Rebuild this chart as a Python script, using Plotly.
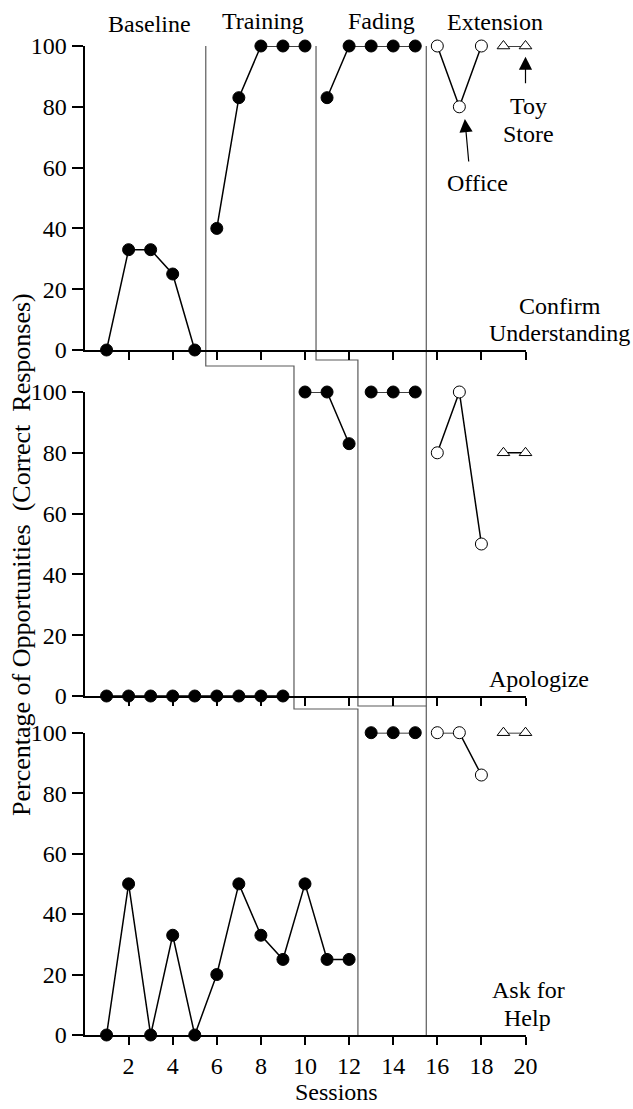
import plotly.graph_objects as go

# ---------------- data ----------------
tick_sessions = [2, 4, 6, 8, 10, 12, 14, 16, 18, 20]
y_ticks = [0, 20, 40, 60, 80, 100]

phase_names = ["Baseline", "Training", "Fading", "Extension"]

# Confirm Understanding
cu_base_x = [1, 2, 3, 4, 5]
cu_base_y = [0, 33, 33, 25, 0]
cu_train_x = [6, 7, 8, 9, 10]
cu_train_y = [40, 83, 100, 100, 100]
cu_fade_x = [11, 12, 13, 14, 15]
cu_fade_y = [83, 100, 100, 100, 100]
cu_office_x = [16, 17, 18]
cu_office_y = [100, 80, 100]
cu_toy_x = [19, 20]
cu_toy_y = [100, 100]

# Apologize
ap_base_x = [1, 2, 3, 4, 5, 6, 7, 8, 9]
ap_base_y = [0, 0, 0, 0, 0, 0, 0, 0, 0]
ap_train_x = [10, 11, 12]
ap_train_y = [100, 100, 83]
ap_fade_x = [13, 14, 15]
ap_fade_y = [100, 100, 100]
ap_office_x = [16, 17, 18]
ap_office_y = [80, 100, 50]
ap_toy_x = [19, 20]
ap_toy_y = [80, 80]

# Ask for Help
ah_base_x = [1, 2, 3, 4, 5, 6, 7, 8, 9, 10, 11, 12]
ah_base_y = [0, 50, 0, 33, 0, 20, 50, 33, 25, 50, 25, 25]
ah_fade_x = [13, 14, 15]
ah_fade_y = [100, 100, 100]
ah_office_x = [16, 17, 18]
ah_office_y = [100, 100, 86]
ah_toy_x = [19, 20]
ah_toy_y = [100, 100]

# phase-change boundaries (session positions)
pc_a = [5.5, 9.5, 12.4]    # baseline -> intervention, per panel
pc_b = [10.5, 12.4, 15.5]  # training -> fading
pc_c = 15.5                # fading -> extension

# ---------------- layout geometry ----------------
W, H = 633, 1109
FONT = "Liberation Serif, Times New Roman, serif"

def py(p):  # pixel row -> paper y
    return 1 - p / H

x_dom = [84.5 / W, 525.5 / W]
panels = [(46, 350), (392, 696), (732.7, 1035)]  # (row of 100, row of 0)

fig = go.Figure()

def add_panel(k, series):
    xa = "x" if k == 0 else f"x{k+1}"
    ya = "y" if k == 0 else f"y{k+1}"
    for xs, ys, kind in series:
        if kind == "filled":
            marker = dict(symbol="circle", size=12, color="black",
                          line=dict(color="black", width=1))
        elif kind == "open":
            marker = dict(symbol="circle", size=12, color="white",
                          line=dict(color="black", width=1))
        else:
            marker = dict(symbol="triangle-up", size=11, color="white",
                          line=dict(color="black", width=1))
        fig.add_trace(go.Scatter(
            x=xs, y=ys, mode="lines+markers", xaxis=xa, yaxis=ya,
            line=dict(color="black", width=1.5), marker=marker,
            cliponaxis=False, showlegend=False, hoverinfo="skip"))

add_panel(0, [(cu_base_x, cu_base_y, "filled"), (cu_train_x, cu_train_y, "filled"),
              (cu_fade_x, cu_fade_y, "filled"), (cu_office_x, cu_office_y, "open"),
              (cu_toy_x, cu_toy_y, "tri")])
add_panel(1, [(ap_base_x, ap_base_y, "filled"), (ap_train_x, ap_train_y, "filled"),
              (ap_fade_x, ap_fade_y, "filled"), (ap_office_x, ap_office_y, "open"),
              (ap_toy_x, ap_toy_y, "tri")])
add_panel(2, [(ah_base_x, ah_base_y, "filled"), (ah_fade_x, ah_fade_y, "filled"),
              (ah_office_x, ah_office_y, "open"), (ah_toy_x, ah_toy_y, "tri")])

tickfont = dict(family=FONT, size=24, color="black")
layout = dict(width=W, height=H, template="none",
              margin=dict(l=0, r=0, t=0, b=0, pad=0, autoexpand=False),
              paper_bgcolor="white", plot_bgcolor="rgba(0,0,0,0)",
              font=dict(family=FONT, size=24, color="black"), showlegend=False)

for k, (top, bot) in enumerate(panels):
    sx = "" if k == 0 else str(k + 1)
    layout[f"xaxis{sx}"] = dict(
        domain=x_dom, range=[0, 20], anchor=f"y{sx}", automargin=False,
        tickmode="array", tickvals=tick_sessions, ticks="outside", ticklen=8,
        tickwidth=1.5, tickcolor="black", showticklabels=(k == 2),
        tickfont=tickfont, showline=True, linecolor="black", linewidth=2,
        showgrid=False, zeroline=False, fixedrange=True)
    layout[f"yaxis{sx}"] = dict(
        domain=[py(bot), py(top)], range=[0, 100], anchor=f"x{sx}", automargin=False,
        tickmode="array", tickvals=y_ticks, ticks="outside", ticklen=11,
        tickwidth=1.5, tickcolor="black", tickfont=tickfont,
        showline=True, linecolor="black", linewidth=2,
        showgrid=False, zeroline=False, fixedrange=True)

fig.update_layout(**layout)

# phase change lines (stepped, multiple-baseline style)
gray = dict(color="#5a5a5a", width=1.2)
pathA = (f"M {pc_a[0]},{py(46)} L {pc_a[0]},{py(366)} L {pc_a[1]},{py(366)} "
         f"L {pc_a[1]},{py(709)} L {pc_a[2]},{py(709)} L {pc_a[2]},{py(1035)}")
pathB = (f"M {pc_b[0]},{py(46)} L {pc_b[0]},{py(360)} L {pc_b[1]},{py(360)} "
         f"L {pc_b[1]},{py(706)} L {pc_b[2]},{py(706)}")
pathC = f"M {pc_c},{py(46)} L {pc_c},{py(1035)}"
for p in (pathA, pathB, pathC):
    fig.add_shape(type="path", path=p, xref="x", yref="paper", line=gray, layer="below")

def txt(s, xp, yp, size=24):
    fig.add_annotation(text=s, x=xp / W, y=py(yp), xref="paper", yref="paper",
                       showarrow=False, xanchor="center", yanchor="middle",
                       font=dict(family=FONT, size=size, color="black"))

# phase labels
txt(phase_names[0], 149.5, 24)
txt(phase_names[1], 263, 21)
txt(phase_names[2], 381, 21)
txt(phase_names[3], 494.5, 22)

# panel labels
txt("Confirm", 560, 306)
txt("Understanding", 559, 333)
txt("Apologize", 539, 679)
txt("Ask for", 528, 990)
txt("Help", 527, 1018)

# extension setting labels
txt("Office", 477.5, 183)
txt("Toy", 528, 106)
txt("Store", 528, 134)

# axis titles
txt("Sessions", 336, 1092)
fig.add_annotation(text="Percentage of Opportunities\u00a0\u00a0(Correct\u00a0\u00a0Responses)",
                   x=21 / W, y=py(555), xref="paper", yref="paper", showarrow=False,
                   textangle=-90, xanchor="center", yanchor="middle",
                   font=dict(family=FONT, size=26, color="black"))

# arrows pointing at the Office and Toy Store points
fig.add_annotation(x=17.25, y=76, xref="x", yref="y", text="", showarrow=True,
                   ax=4, ay=44, axref="pixel", ayref="pixel", arrowhead=2,
                   arrowsize=2.2, arrowwidth=1.2, arrowcolor="black", standoff=0)
fig.add_annotation(x=20, y=96.5, xref="x", yref="y", text="", showarrow=True,
                   ax=0, ay=28, axref="pixel", ayref="pixel", arrowhead=2,
                   arrowsize=2.2, arrowwidth=1.2, arrowcolor="black", standoff=0)

fig.write_html("out.html", config={"displayModeBar": False},
               post_script="document.body.style.margin='0';document.body.style.overflow='hidden';")
